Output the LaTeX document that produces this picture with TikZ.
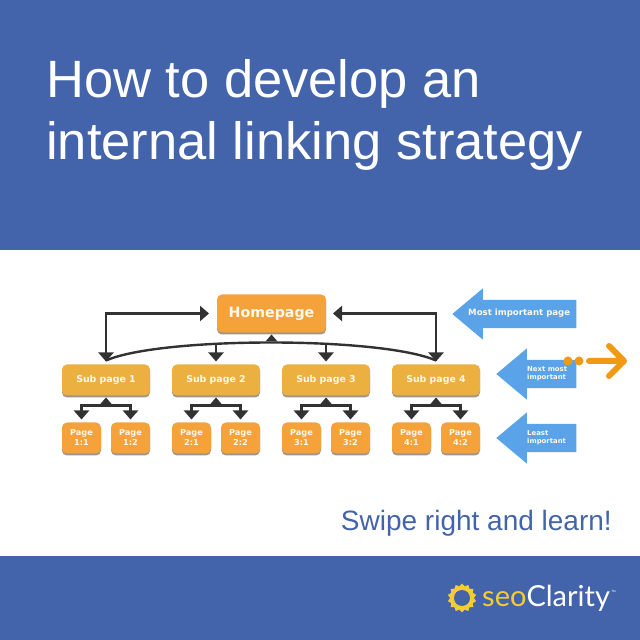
\documentclass[tikz,border=0pt]{standalone}
\usepackage{fontspec}
\setmainfont{Liberation Sans}
\newfontfamily\boxfont{DejaVu Sans}
\newfontfamily\logofont{Lato}
\usetikzlibrary{positioning,arrows.meta,calc,shadows,shapes.arrows,shapes.geometric}
\definecolor{bandcol}{RGB}{67,100,170}
\definecolor{homecol}{RGB}{245,162,59}
\definecolor{subcol}{RGB}{236,176,64}
\definecolor{rimcol}{RGB}{160,150,135}
\definecolor{tlcol}{RGB}{50,50,50}
\definecolor{hintcol}{RGB}{90,163,232}
\definecolor{swipecol}{RGB}{240,154,20}
\definecolor{gearcol}{RGB}{245,205,50}
\definecolor{labcol}{RGB}{255,248,235}

\begin{document}
\begin{tikzpicture}[
    x=1pt, y=1pt,
    pagebox/.style={fill=#1, rounded corners=5pt, inner sep=0pt, outer sep=0pt, align=center,
                    text=labcol, drop shadow={fill=rimcol, opacity=1, shadow xshift=0pt, shadow yshift=-2pt}},
    homebox/.style={pagebox=homecol, minimum width=109pt, minimum height=38pt,
                    font=\fontsize{14.2}{17}\selectfont\boxfont\bfseries},
    subbox/.style={pagebox=subcol, minimum width=88pt, minimum height=31pt,
                   font=\fontsize{9.4}{13}\selectfont\boxfont\bfseries},
    leafbox/.style={pagebox=homecol, minimum width=39pt, minimum height=31pt,
                    font=\fontsize{8.2}{10}\selectfont\boxfont\bfseries},
    tl/.style={-{Triangle[length=9pt,width=15pt]}, line width=2.8pt, color=tlcol, shorten >=3pt},
    apex/.style={insert path={++(-6,1) -- ++(6,7) -- ++(6,-7) -- cycle}},
    hint/.style={single arrow, shape border rotate=180, fill=hintcol, anchor=tip, inner sep=0pt,
                 single arrow tip angle=80, single arrow head extend=11.5pt,
                 text height=14pt, text depth=14pt, text width=0pt},
    hintlab/.style={text=labcol, align=left, inner sep=0pt, font=\fontsize{#1}{8.4}\selectfont\boxfont\bfseries},
]
\useasboundingbox (0,0) rectangle (640,640);

% ---- Bands ----
\fill[bandcol] (0,390) rectangle (640,640);
\fill[bandcol] (0,0) rectangle (640,84);

\node[anchor=north west, inner sep=0pt, text=white, align=left,
      font=\fontsize{52.5}{62}\selectfont] (title) at (46,581) {How to develop an\\internal linking strategy};
\node[anchor=base east, inner sep=0pt, text=bandcol,
      font=\fontsize{28}{30}\selectfont] (swipe) at (612,109) {Swipe right and learn!};

% ---- Page boxes ----
\node[homebox] (home) at (271.5,326.5) {Homepage};
\node[subbox] (sub1) at (106,260) {Sub page 1};
\node[subbox, right=22pt of sub1] (sub2) {Sub page 2};
\node[subbox, right=22pt of sub2] (sub3) {Sub page 3};
\node[subbox, right=22pt of sub3] (sub4) {Sub page 4};

\node[leafbox, below=27pt of sub1.south west, anchor=north west] (p11) {Page\\1:1};
\node[leafbox, below=27pt of sub1.south east, anchor=north east] (p12) {Page\\1:2};
\node[leafbox, below=27pt of sub2.south west, anchor=north west] (p21) {Page\\2:1};
\node[leafbox, below=27pt of sub2.south east, anchor=north east] (p22) {Page\\2:2};
\node[leafbox, below=27pt of sub3.south west, anchor=north west] (p31) {Page\\3:1};
\node[leafbox, below=27pt of sub3.south east, anchor=north east] (p32) {Page\\3:2};
\node[leafbox, below=27pt of sub4.south west, anchor=north west] (p41) {Page\\4:1};
\node[leafbox, below=27pt of sub4.south east, anchor=north east] (p42) {Page\\4:2};

% ---- Connectors ----
\coordinate[below=10pt of home.south] (j0);
\coordinate[above=4pt of sub1.north] (t1);
\coordinate[above=19pt of sub2.north] (t2);
\coordinate[above=19pt of sub3.north] (t3);
\coordinate[above=4pt of sub4.north] (t4);

\draw[line width=2.4pt, color=tlcol] (t1) .. controls +(55,24) and +(-55,24) .. (t4);
\fill[tlcol] (j0) [apex];
\draw[tl, shorten >=8pt] (sub1.north) ++(0,3) |- (home.west);
\draw[tl, shorten >=7pt] (sub4.north) ++(0,3) |- (home.east);
\draw[tl] (home.west -| sub1.north) -- (sub1.north);
\draw[tl] (home.east -| sub4.north) -- (sub4.north);
\draw[tl] (t2) -- (sub2.north);
\draw[tl] (t3) -- (sub3.north);

\coordinate[below=10pt of sub1.south] (j1);
\coordinate[below=10pt of sub2.south] (j2);
\coordinate[below=10pt of sub3.south] (j3);
\coordinate[below=10pt of sub4.south] (j4);
\fill[tlcol] (j1) [apex];
\fill[tlcol] (j2) [apex];
\fill[tlcol] (j3) [apex];
\fill[tlcol] (j4) [apex];
\draw[tl] (j1) -| (p11.north);
\draw[tl] (j1) -| (p12.north);
\draw[tl] (j2) -| (p21.north);
\draw[tl] (j2) -| (p22.north);
\draw[tl] (j3) -| (p31.north);
\draw[tl] (j3) -| (p32.north);
\draw[tl] (j4) -| (p41.north);
\draw[tl] (j4) -| (p42.north);

% ---- Hint arrows ----
\node[hint, minimum height=124pt] (most) at (452,326) {};
\node[hint, minimum height=80pt] (next) at (496,266) {};
\node[hint, minimum height=80pt] (least) at (496,202) {};
\node[hintlab=8.6, anchor=west] (mostlab) at (468,326.5) {Most important page};
\node[hintlab=6.9, anchor=west] (nextlab) at (527,266) {Next most\\important};
\node[hintlab=6.9, anchor=west] (leastlab) at (527,202.5) {Least\\important};

% ---- Swipe marker ----
\fill[swipecol] (568,279) circle (4.5pt) (579,279) circle (4.5pt);
\draw[swipecol, line width=6pt, line cap=round, line join=round]
  (589,279) -- (624,279) (609,294) -- (624,279) -- (609,264);

% ---- Logo ----
\node[star, star points=14, star point ratio=1.22, fill=gearcol, inner sep=0pt, minimum size=29pt] (gear) at (462,42) {};
\node[circle, fill=bandcol, inner sep=0pt, minimum size=16pt] (hole) at (gear.center) {};
\node[anchor=base west, inner sep=0pt, font=\fontsize{29}{34}\selectfont\logofont] (logo) at (482,33)
  {\textcolor{gearcol}{seo}\textcolor{white}{Clarity}};
\node[anchor=west, inner sep=0pt, text=white, font=\fontsize{3}{3}\selectfont] (tm) at ($(logo.north east)+(1,-6)$) {TM};
\end{tikzpicture}
\end{document}
